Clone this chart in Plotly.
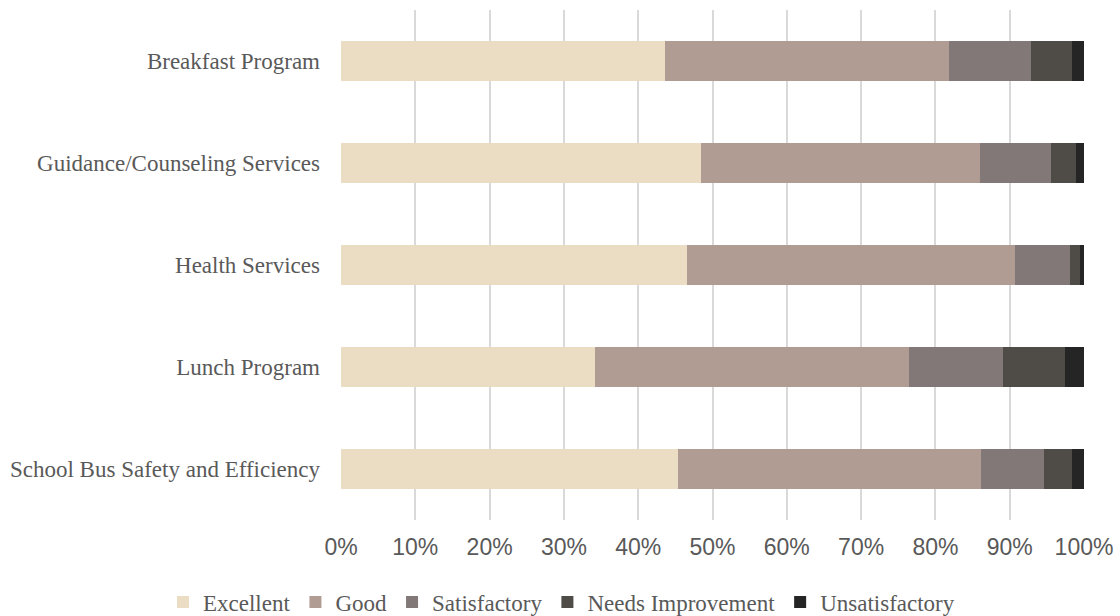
import plotly.graph_objects as go

categories = ["Breakfast Program", "Guidance/Counseling Services", "Health Services",
              "Lunch Program", "School Bus Safety and Efficiency"]
series_names = ["Excellent", "Good", "Satisfactory", "Needs Improvement", "Unsatisfactory"]
excellent = [43.6, 48.5, 46.6, 34.2, 45.4]
good = [38.2, 37.5, 44.1, 42.2, 40.7]
satisfactory = [11.1, 9.6, 7.4, 12.7, 8.5]
needs_improvement = [5.5, 3.3, 1.4, 8.3, 3.8]
unsatisfactory = [1.6, 1.1, 0.5, 2.6, 1.6]
colors = ["#EBDDC3", "#B09C93", "#827878", "#4F4B46", "#252525"]
tick_vals = [0, 10, 20, 30, 40, 50, 60, 70, 80, 90, 100]
tick_text = [f"{v}%" for v in tick_vals]

series = [excellent, good, satisfactory, needs_improvement, unsatisfactory]

fig = go.Figure()
for name, vals, col in zip(series_names, series, colors):
    fig.add_trace(go.Bar(
        y=categories, x=vals, name=name, orientation="h",
        marker=dict(color=col, line=dict(width=0)),
    ))

fig.update_layout(
    barmode="stack",
    bargap=0.6,
    width=1120, height=616,
    margin=dict(l=341, r=36, t=10, b=96, autoexpand=False),
    plot_bgcolor="white", paper_bgcolor="white",
    showlegend=True,
    legend=dict(orientation="h", xref="paper", yref="paper",
                x=-0.2396, y=-0.161, xanchor="left", yanchor="middle",
                font=dict(family="Liberation Serif", size=23, color="#595959"),
                itemwidth=30, traceorder="normal", tracegroupgap=0),
    xaxis=dict(range=[0, 100], tickvals=tick_vals, ticktext=tick_text,
               showgrid=True, gridcolor="#D9D9D9", gridwidth=2,
               zeroline=False, showline=False, ticks="",
               ticklabelstandoff=11,
               tickfont=dict(family="Liberation Sans", size=23, color="#595959")),
    yaxis=dict(categoryorder="array", categoryarray=categories, autorange="reversed",
               showgrid=False, zeroline=False, showline=False, ticks="",
               ticklabelstandoff=20,
               tickfont=dict(family="Liberation Serif", size=23, color="#595959")),
)

fig.write_html("out.html", post_script="document.body.style.margin='0';",
               config={"displayModeBar": False})
